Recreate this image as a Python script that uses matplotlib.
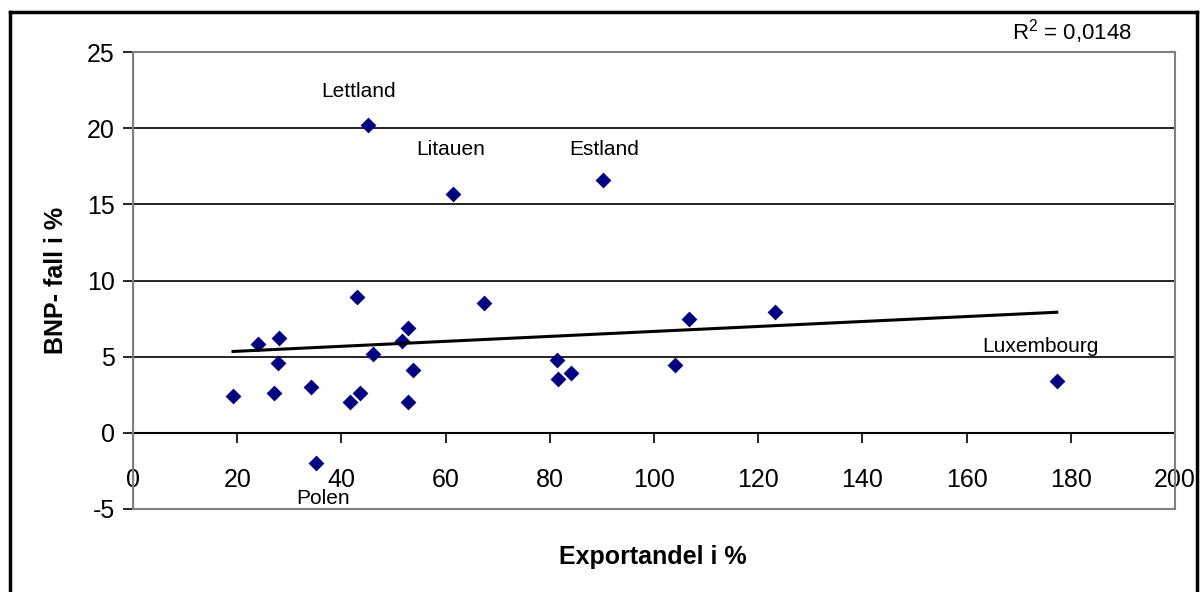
import matplotlib.pyplot as plt
import numpy as np
from matplotlib.lines import Line2D

plt.rcParams['font.family'] = ['Liberation Sans', 'DejaVu Sans']
plt.rcParams['mathtext.fontset'] = 'custom'
plt.rcParams['mathtext.rm'] = 'Liberation Sans'
plt.rcParams['axes.unicode_minus'] = False

# Data: export share (%) vs GDP fall (%)
export_share = [19.2, 23.9, 27.9, 28.0, 27.1, 34.2, 35.2, 41.6, 43.0, 43.6,
                45.2, 46.0, 51.7, 52.8, 52.8, 53.8, 61.5, 67.4, 81.3, 81.6,
                84.0, 90.2, 104.0, 106.7, 123.3, 177.3]
gdp_fall = [2.4, 5.8, 4.6, 6.2, 2.6, 3.0, -2.0, 2.0, 8.9, 2.6,
            20.2, 5.15, 6.0, 6.9, 2.0, 4.1, 15.7, 8.55, 4.8, 3.55,
            3.9, 16.6, 4.45, 7.5, 7.96, 3.4]

# named countries
labels = ['Lettland', 'Litauen', 'Estland', 'Luxembourg', 'Polen']
label_x = [43.2, 61.0, 90.4, 174.1, 36.5]
label_y = [22.4, 18.6, 18.6, 5.7, -4.3]
r2_text = 'R$^2$ = 0,0148'

x = np.array(export_share)
y = np.array(gdp_fall)

fig = plt.figure(figsize=(12, 5.92), dpi=100)
ax = fig.add_axes([133 / 1200, 1 - 509 / 592, 1042 / 1200, 457 / 592])

ax.scatter(x, y, marker='D', s=65, color='#000080', zorder=3, linewidths=0)

# linear trend line
coeffs = np.polyfit(x, y, 1)
xs = np.array([x.min(), x.max()])
ax.plot(xs, np.polyval(coeffs, xs), color='black', lw=2.2, zorder=4)

for t, lx, ly in zip(labels, label_x, label_y):
    ax.text(lx, ly, t, fontsize=15, ha='center', va='center')

ax.set_xlim(0, 200)
ax.set_ylim(-5, 25)
ax.set_yticks(np.arange(-5, 26, 5))

for v in [5, 10, 15, 20]:
    ax.axhline(v, color='black', lw=1.2, zorder=1)
ax.axhline(0, color='black', lw=1.5, zorder=2)
ax.axvline(0, color='black', lw=1.5, zorder=2)

for s in ax.spines.values():
    s.set_color('#808080')
    s.set_linewidth(1.5)

ax.tick_params(axis='y', direction='out', length=7, width=1.2, labelsize=18, pad=6)
ax.set_xticks([])

# x ticks sit on the y=0 line
ax2 = ax.secondary_xaxis(5 / 30)
ax2.set_xticks(np.arange(0, 201, 20))
ax2.tick_params(axis='x', direction='out', length=7, width=1.2, labelsize=18, pad=18)
ax2.spines['bottom'].set_visible(False)

ax.set_ylabel('BNP- fall i %', fontsize=18, fontweight='bold', labelpad=14)
fig.text(653 / 1200, 1 - 557 / 592, 'Exportandel i %', fontsize=18,
         fontweight='bold', ha='center', va='center')
fig.text(1072 / 1200, 1 - 32 / 592, r2_text, fontsize=16, ha='center', va='center')

# outer chart frame
for xx, yy in [([10, 10], [592, 12]), ([10, 1197], [12, 12]), ([1197, 1197], [12, 592])]:
    fig.add_artist(Line2D(np.array(xx) / 1200, 1 - np.array(yy) / 592,
                          color='black', lw=2.5, transform=fig.transFigure))

fig.savefig('out.png', dpi=100)
